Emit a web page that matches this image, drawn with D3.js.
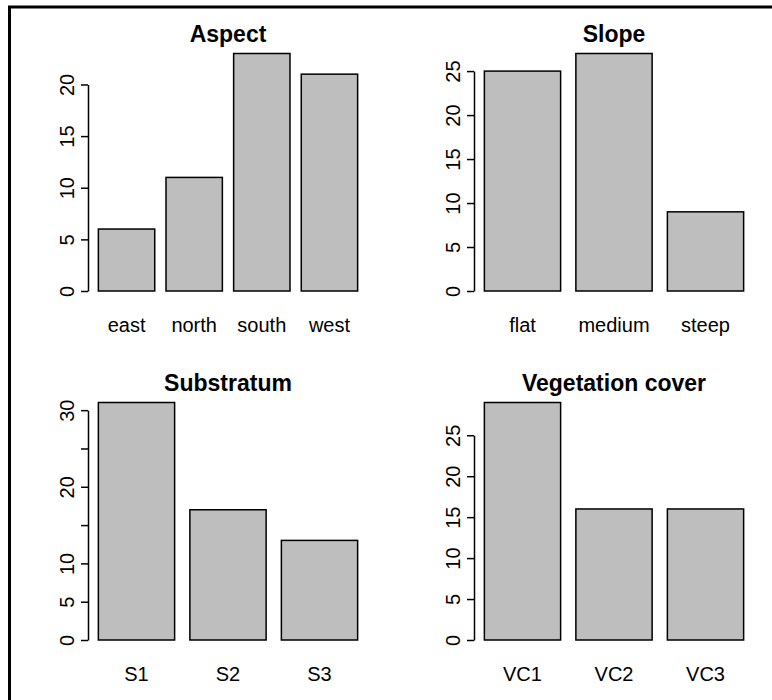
<!DOCTYPE html>
<html>
<head>
<meta charset="utf-8">
<script src="https://cdn.jsdelivr.net/npm/d3@7"></script>
<style>
  body { margin: 0; background: #fff; }
  svg { display: block; }
</style>
</head>
<body>
<script>
// data
var aspectCats = ['east', 'north', 'south', 'west']
var aspectCounts = [6, 11, 23, 21]
var aspectTicks = [0, 5, 10, 15, 20]
var aspectTickLabels = ['0', '5', '10', '15', '20']

var slopeCats = ['flat', 'medium', 'steep']
var slopeCounts = [25, 27, 9]
var slopeTicks = [0, 5, 10, 15, 20, 25]
var slopeTickLabels = ['0', '5', '10', '15', '20', '25']

var substratumCats = ['S1', 'S2', 'S3']
var substratumCounts = [31, 17, 13]
var substratumTicks = [0, 5, 10, 15, 20, 25, 30]
var substratumTickLabels = ['0', '5', '10', '', '20', '', '30']   // R drops the ones that overlap

var vegCats = ['VC1', 'VC2', 'VC3']
var vegCounts = [29, 16, 16]
var vegTicks = [0, 5, 10, 15, 20, 25]
var vegTickLabels = ['0', '5', '10', '15', '20', '25']

var titles = ['Aspect', 'Slope', 'Substratum', 'Vegetation cover']

/////////////////////// layout ////////////////////////
var width = 772
var height = 700
var font = "'Liberation Sans', Arial, Helvetica, sans-serif"
var plot = {left: 88, right: 368, top: 44, bottom: 300.5}
var colX = [0, 386]
var rowY = [0, 349]

var svg = d3.select('body').append('svg').attr('width', width).attr('height', height)
svg.append('rect').attr('width', width).attr('height', height).attr('fill', '#fff')

// thick frame, runs off the right and bottom edges
svg.append('rect').attr('x', 9.5).attr('y', 7).attr('width', 900).attr('height', 900)
    .attr('fill', 'none').attr('stroke', '#000').attr('stroke-width', 3)

function barPanel(col, row, title, cats, counts, ticks, tickLabels) {
    var g = svg.append('g').attr('transform', 'translate(' + colX[col] + ',' + rowY[row] + ')')
    var n = cats.length
    var span = 1.2 * n - 0.2
    // R barplot: width 1, space 0.2, axes padded by 4%
    var xR = d3.scaleLinear().domain([0.2 - 0.04 * span, 1.2 * n + 0.04 * span]).range([plot.left, plot.right])
    var x = d3.scaleBand().domain(cats).range([xR(0.2), xR(1.2 * n)]).paddingInner(1 / 6).paddingOuter(0)
    var max = d3.max(counts)
    var y = d3.scaleLinear().domain([-0.04 * max, 1.04 * max]).range([plot.bottom, plot.top])

    g.selectAll('rect').data(counts).enter().append('rect')
        .attr('x', function(d, i) { return x(cats[i]) })
        .attr('y', function(d) { return y(d) })
        .attr('width', x.bandwidth())
        .attr('height', function(d) { return y(0) - y(d) })
        .attr('fill', '#bebebe').attr('stroke', '#000').attr('stroke-width', 1.5)

    // y axis only spans 0..last tick
    var last = ticks[ticks.length - 1]
    var yAx = y.copy().domain([0, last]).range([y(0), y(last)])
    var ax = g.append('g').attr('transform', 'translate(' + plot.left + ',0)')
        .call(d3.axisLeft(yAx).tickValues(ticks).tickSize(7).tickSizeOuter(0)
            .tickFormat(function(d, i) { return tickLabels[i] }))
    ax.attr('font-size', 20).attr('font-family', font)
    ax.selectAll('path, line').attr('stroke-width', 1.5)
    ax.selectAll('text').attr('transform', 'rotate(-90)').attr('x', 0).attr('y', -14)
        .attr('dy', 0).attr('text-anchor', 'middle').attr('fill', '#000')

    g.selectAll('text.cat').data(cats).enter().append('text').attr('class', 'cat')
        .attr('x', function(d) { return x(d) + x.bandwidth() / 2 })
        .attr('y', 331.5)
        .attr('text-anchor', 'middle').attr('font-family', font).attr('font-size', 20)
        .text(function(d) { return d })

    g.append('text').attr('x', (plot.left + plot.right) / 2).attr('y', 41.5)
        .attr('text-anchor', 'middle').attr('font-family', font).attr('font-size', 23)
        .attr('font-weight', 'bold').text(title)
}

barPanel(0, 0, titles[0], aspectCats, aspectCounts, aspectTicks, aspectTickLabels)
barPanel(1, 0, titles[1], slopeCats, slopeCounts, slopeTicks, slopeTickLabels)
barPanel(0, 1, titles[2], substratumCats, substratumCounts, substratumTicks, substratumTickLabels)
barPanel(1, 1, titles[3], vegCats, vegCounts, vegTicks, vegTickLabels)
</script>
</body>
</html>
